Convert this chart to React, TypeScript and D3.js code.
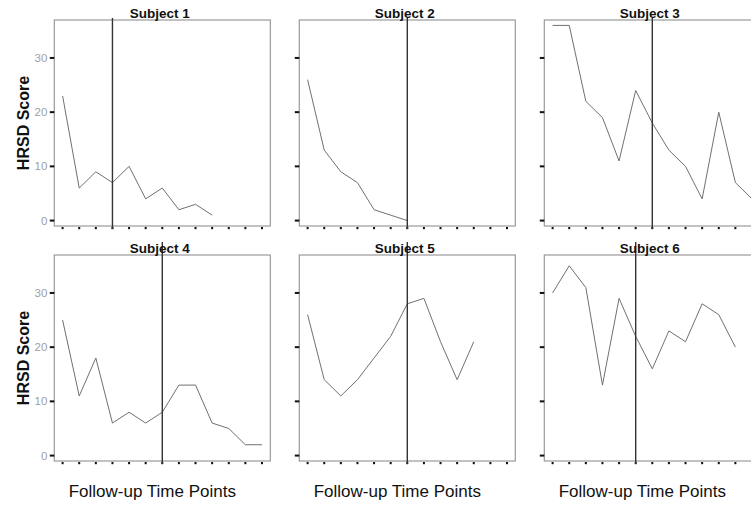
import React, { useEffect, useRef } from "react";
import { select, scalePoint, scaleLinear, line } from "d3";

const subjects = ["Subject 1", "Subject 2", "Subject 3", "Subject 4", "Subject 5", "Subject 6"];
const timePoints = [1, 2, 3, 4, 5, 6, 7, 8, 9, 10, 11, 12, 13];
const yTicks = [0, 10, 20, 30];

const subject1 = [23, 6, 9, 7, 10, 4, 6, 2, 3, 1];
const subject2 = [26, 13, 9, 7, 2, 1, 0];
const subject3 = [36, 36, 22, 19, 11, 24, 18, 13, 10, 4, 20, 7, 4];
const subject4 = [25, 11, 18, 6, 8, 6, 8, 13, 13, 6, 5, 2, 2];
const subject5 = [26, 14, 11, 14, 18, 22, 28, 29, 21, 14, 21];
const subject6 = [30, 35, 31, 13, 29, 22, 16, 23, 21, 28, 26, 20];
const scores = [subject1, subject2, subject3, subject4, subject5, subject6];

// time point index where the phase changes (vertical line)
const phaseChange = [3, 6, 6, 6, 6, 5];

const width = 751;
const height = 506;
const panelW = 216;
const panelH = 206;
const font = "'Liberation Sans', Arial, sans-serif";

function App() {
  const ref = useRef<SVGSVGElement>(null);

  useEffect(() => {
    const svg = select(ref.current);
    svg.selectAll("*").remove();

    scores.forEach((data, i) => {
      const col = i % 3;
      const row = Math.floor(i / 3);
      const left = 54.3 + col * 245;
      const top = 20 + row * 235;
      const bottom = top + panelH;

      const x = scalePoint<number>()
        .domain(timePoints)
        .range([left, left + panelW])
        .padding(0.5);
      const y = scaleLinear().domain([-1, 37]).range([bottom, top]);

      const g = svg.append("g");

      // frame
      g.append("rect")
        .attr("x", left)
        .attr("y", top)
        .attr("width", panelW)
        .attr("height", panelH)
        .attr("fill", "white")
        .attr("stroke", "#9a9a9a")
        .attr("stroke-width", 1.2);

      // y ticks
      yTicks.forEach((t) => {
        g.append("rect")
          .attr("x", left - 4.5)
          .attr("y", y(t) - 1)
          .attr("width", 4.5)
          .attr("height", 2)
          .attr("fill", "#111");
        if (col === 0) {
          g.append("text")
            .attr("x", left - 7)
            .attr("y", y(t) + 4)
            .attr("text-anchor", "end")
            .attr("font-family", font)
            .attr("font-size", 11.5)
            .attr("fill", "#a0a0a0")
            .text(t);
        }
      });

      // x ticks
      timePoints.forEach((t) => {
        g.append("rect")
          .attr("x", x(t)! - 1)
          .attr("y", bottom + 1)
          .attr("width", 2)
          .attr("height", 2.2)
          .attr("fill", "#111");
      });

      // score line
      const path = line<number>()
        .x((v, k) => x(timePoints[k])!)
        .y((v) => y(v));
      g.append("path")
        .attr("d", path(data))
        .attr("fill", "none")
        .attr("stroke", "#707070")
        .attr("stroke-width", 1);

      // phase change line
      const px = x(timePoints[phaseChange[i]])!;
      g.append("line")
        .attr("x1", px)
        .attr("x2", px)
        .attr("y1", row === 0 ? top - 2 : top - 13)
        .attr("y2", bottom + 3)
        .attr("stroke", "#333")
        .attr("stroke-width", 1.4);

      // title
      g.append("text")
        .attr("x", left + panelW / 2 - 2.5)
        .attr("y", top - 2.5)
        .attr("text-anchor", "middle")
        .attr("font-family", font)
        .attr("font-weight", "bold")
        .attr("font-size", 13.5)
        .attr("fill", "#111")
        .text(subjects[i]);

      if (col === 0) {
        g.append("text")
          .attr("transform", `translate(29,${(top + bottom) / 2}) rotate(-90)`)
          .attr("text-anchor", "middle")
          .attr("font-family", font)
          .attr("font-weight", "bold")
          .attr("font-size", 16)
          .attr("fill", "#111")
          .text("HRSD Score");
      }

      if (row === 1) {
        svg.append("text")
          .attr("x", left + panelW / 2 - 10)
          .attr("y", 497)
          .attr("text-anchor", "middle")
          .attr("font-family", font)
          .attr("font-size", 17)
          .attr("fill", "#111")
          .text("Follow-up Time Points");
      }
    });
  }, []);

  return (
    <svg
      ref={ref}
      width={width}
      height={height}
      style={{ position: "absolute", left: 0, top: 0, background: "white" }}
    />
  );
}

export default App;
